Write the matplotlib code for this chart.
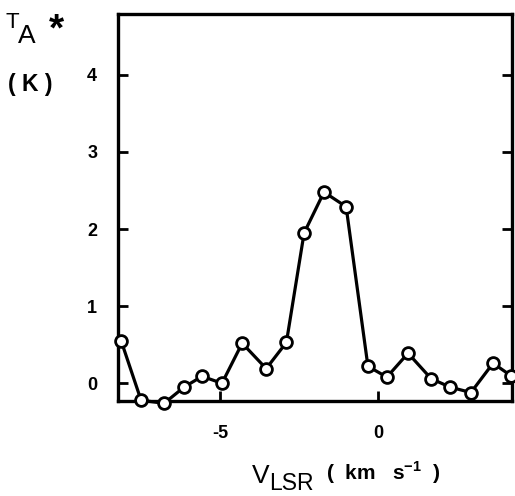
import matplotlib
matplotlib.use("Agg")
import matplotlib.pyplot as plt

# Data
velocity = [-8.13, -7.5, -6.77, -6.14, -5.57, -4.94, -4.3, -3.54, -2.9, -2.34,
            -1.71, -1.01, -0.32, 0.28, 0.95, 1.68, 2.28, 2.94, 3.64, 4.2]
temperature = [0.55, -0.22, -0.26, -0.05, 0.09, 0.0, 0.52, 0.19, 0.53, 1.95,
               2.48, 2.29, 0.22, 0.08, 0.39, 0.06, -0.05, -0.12, 0.26, 0.10]
xticks = [-5, 0]
xticklabels = ["-5", "0"]
yticks = [0, 1, 2, 3, 4]
yticklabels = ["0", "1", "2", "3", "4"]

FONT = "Liberation Sans"

fig = plt.figure(figsize=(5.15, 4.96), dpi=100)
ax = fig.add_axes([118/515, 1-401/496, (512-118)/515, (401-14)/496])

ax.plot(velocity, temperature, color="black", lw=2.3, marker="o", ms=8.5,
        mfc="white", mec="black", mew=2.0, clip_on=False, zorder=3)

ax.set_xlim(-8.23, 4.24)
ax.set_ylim(-0.23, 4.79)

for s in ax.spines.values():
    s.set_linewidth(2.4)
    s.set_color("black")

ax.set_xticks(xticks)
ax.set_xticklabels(xticklabels, fontsize=13, fontweight="bold", family=FONT)
ax.set_yticks(yticks)
ax.set_yticklabels(yticklabels, fontsize=13, fontweight="bold", family=FONT)
ax.tick_params(axis="x", direction="in", length=7, width=2, pad=17, top=False)
ax.tick_params(axis="y", direction="in", length=7, width=2, pad=15, right=True)

# Axis labels as text pieces
fig.text(252/515, 1-483/496, "V", fontsize=19, family=FONT, ha="left", va="baseline")
fig.text(269/515, 1-490/496, "LSR", fontsize=16.5, family=FONT, ha="left", va="baseline")
fig.text(326/515, 1-480/496, "(  km   s$^{\\mathregular{-1}}$  )", fontsize=15, fontweight="bold",
         family=FONT, ha="left", va="baseline")

fig.text(6/515, 1-28/496, "T", fontsize=16, family=FONT, ha="left", va="baseline")
fig.text(18/515, 1-43/496, "A", fontsize=19, family=FONT, ha="left", va="baseline")
fig.text(49/515, 1-40/496, "*", fontsize=28, fontweight="bold", family=FONT, ha="left", va="baseline")
fig.text(8/515, 1-91/496, "( K )", fontsize=16.5, fontweight="bold", family=FONT, ha="left", va="baseline")

fig.savefig("out.png", dpi=100, facecolor="white")
